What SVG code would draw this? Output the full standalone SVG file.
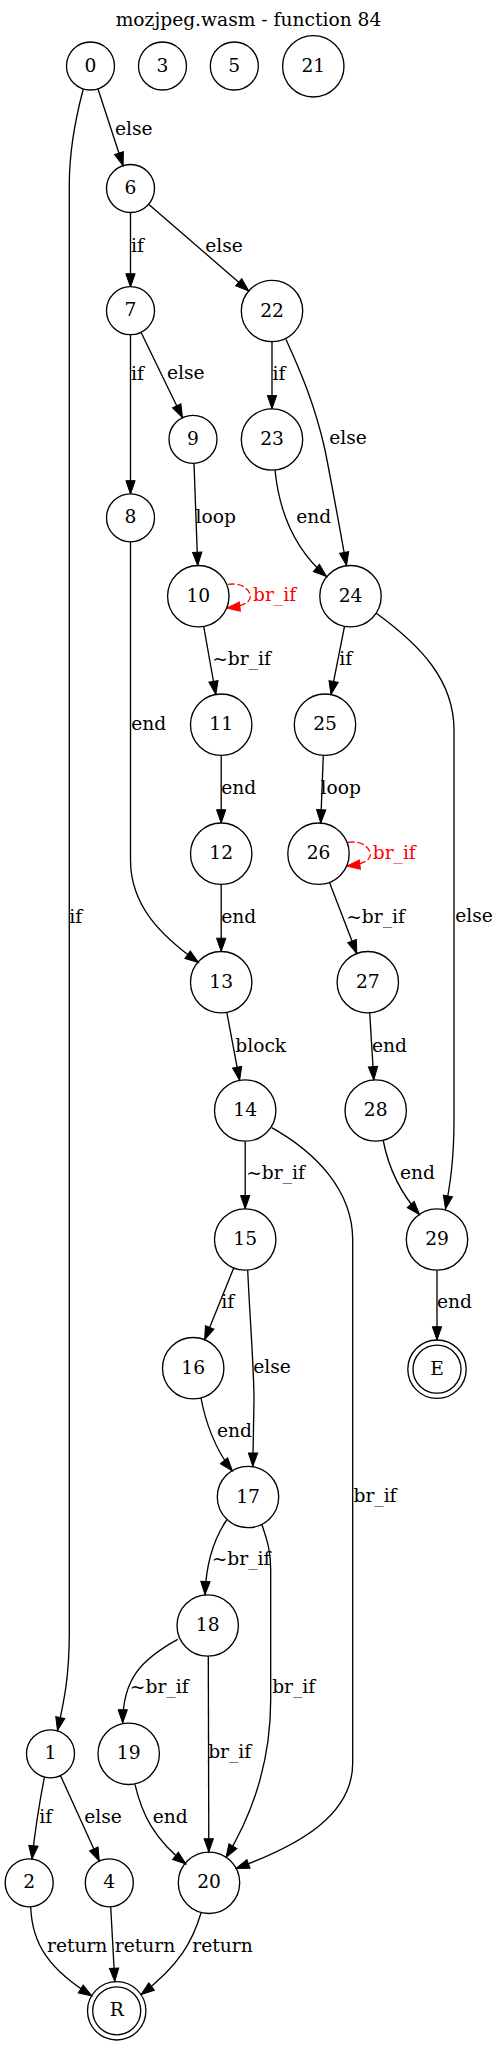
<svg xmlns="http://www.w3.org/2000/svg" width="499" height="2045" viewBox="0 0 499 2045">
<style>
text{font-family:"DejaVu Serif","Liberation Serif",serif;font-size:18.67px;text-anchor:middle;fill:#000}
.n{fill:none;stroke:#000;stroke-width:1.33}
.e{fill:none;stroke:#000;stroke-width:1.33;marker-end:url(#ah)}
.s{fill:none;stroke:#f00;stroke-width:1.33;stroke-dasharray:6.67,2.67;marker-end:url(#ahr)}
.r{fill:#f00;text-anchor:start}
</style>
<defs>
<marker id="ah" markerUnits="userSpaceOnUse" markerWidth="16" markerHeight="12" refX="13.3" refY="4.67" orient="auto" overflow="visible">
<path d="M0,0 L13.3,4.67 L0,9.33 Z" fill="#000" stroke="#000" stroke-width="1"/>
</marker>
<marker id="ahr" markerUnits="userSpaceOnUse" markerWidth="16" markerHeight="12" refX="13.3" refY="4.67" orient="auto" overflow="visible">
<path d="M0,0 L13.3,4.67 L0,9.33 Z" fill="#f00" stroke="#f00" stroke-width="1"/>
</marker>
</defs>
<rect x="0" y="0" width="499" height="2045" fill="#fff"/>
<text x="248.5" y="26">mozjpeg.wasm - function 84</text>
<g id="connectors">
<g id="e0_6"><path class="e" d="M97.9,88.8 L123.1,165.7"/><text x="133.7" y="135">else</text></g>
<g id="e0_1"><path class="e" d="M83.3,89 C75,120 69.3,150 69.3,185 L69.3,1633 C69.3,1680 63,1705 57.5,1730.5"/><text x="75.8" y="922.7">if</text></g>
<g id="e6_7"><path class="e" d="M130.5,212.5 L130.5,287"/><text x="137.5" y="251.7">if</text></g>
<g id="e6_22"><path class="e" d="M148.6,204.2 L248.8,290.9"/><text x="224" y="251.7">else</text></g>
<g id="e7_8"><path class="e" d="M130.5,334.7 L130.5,494"/><text x="137.5" y="380">if</text></g>
<g id="e7_9"><path class="e" d="M141,332.3 L182.5,417.7"/><text x="185.8" y="379.3">else</text></g>
<g id="e22_23"><path class="e" d="M272,341.7 L272,408.8"/><text x="279" y="380">if</text></g>
<g id="e22_24"><path class="e" d="M286,339.5 C300,370 315,405 325,450 C333,490 340,530 346.5,565.5"/><text x="348" y="444">else</text></g>
<g id="e23_24"><path class="e" d="M275,470 C279,510 293,548 326.5,576.5"/><text x="313.7" y="522.7">end</text></g>
<g id="e9_10"><path class="e" d="M194,463.3 L197.7,565.5"/><text x="215.8" y="522.7">loop</text></g>
<g id="e10_10"><path class="s" d="M228,584.3 C238,583 247,586 250,594 C252,601 246,606 226.7,608"/><text class="r" x="253" y="600.5">br_if</text></g>
<g id="e10_11"><path class="e" d="M203.7,626.4 L215.8,694.5"/><text x="241.5" y="665">~br_if</text></g>
<g id="e24_25"><path class="e" d="M344.5,626.3 L331,694.6"/><text x="345.8" y="665">if</text></g>
<g id="e24_29"><path class="e" d="M376,613 C420,645 454,680 454,730 L454,1120 C454,1160 450,1185 445.5,1209"/><text x="474" y="921.7">else</text></g>
<g id="e8_13"><path class="e" d="M130.5,541.8 L130.5,860 C130.5,905 160,935 198.5,962.5"/><text x="148.7" y="730">end</text></g>
<g id="e11_12"><path class="e" d="M221.2,755.4 L221.2,823"/><text x="238.7" y="794.3">end</text></g>
<g id="e12_13"><path class="e" d="M221.2,884.4 L221.2,951.5"/><text x="238.7" y="923.3">end</text></g>
<g id="e25_26"><path class="e" d="M323.3,755.4 L320.7,823"/><text x="340.7" y="794.3">loop</text></g>
<g id="e26_26"><path class="s" d="M348,842.3 C358,841 367,844 370,852 C372,859 366,864 346.7,866"/><text class="r" x="372.7" y="859">br_if</text></g>
<g id="e26_27"><path class="e" d="M329.5,882.4 L356.8,953.5"/><text x="375.5" y="923.3">~br_if</text></g>
<g id="e13_14"><path class="e" d="M226.8,1012.4 L239.6,1080.3"/><text x="260.7" y="1051.7">block</text></g>
<g id="e27_28"><path class="e" d="M369.7,1012.8 L373.8,1079.9"/><text x="389.5" y="1051.7">end</text></g>
<g id="e14_15"><path class="e" d="M245.2,1141.2 L245.2,1208.8"/><text x="275.5" y="1179.3">~br_if</text></g>
<g id="e14_20"><path class="e" d="M271.7,1127.7 C315,1152 352.7,1190 352.7,1240 L352.7,1763 C352.7,1815 300,1845 236,1868.5"/><text x="375" y="1501.7">br_if</text></g>
<g id="e28_29"><path class="e" d="M383.3,1141 C388,1165 398,1190 419.5,1214.5"/><text x="417.5" y="1179.3">end</text></g>
<g id="e29_E"><path class="e" d="M437,1270.2 L437,1340"/><text x="454.5" y="1308.3">end</text></g>
<g id="e15_16"><path class="e" d="M233.7,1268 L204.7,1339.7"/><text x="227.7" y="1308.3">if</text></g>
<g id="e15_17"><path class="e" d="M247.7,1270.2 C250,1320 254,1370 254,1400 L252.8,1466.3"/><text x="272" y="1372.7">else</text></g>
<g id="e16_17"><path class="e" d="M201,1398 C205,1420 215,1450 232.5,1471"/><text x="234.5" y="1437.3">end</text></g>
<g id="e17_18"><path class="e" d="M226.7,1520 C213,1540 206,1565 205,1594.8"/><text x="241" y="1565">~br_if</text></g>
<g id="e17_20"><path class="e" d="M261.7,1524 C267,1540 270.7,1550 270.7,1570 L270.7,1700 C270.7,1760 255,1810 226,1857.5"/><text x="293.7" y="1693.3">br_if</text></g>
<g id="e18_19"><path class="e" d="M177.7,1639.3 C140,1660 122.7,1680 122.7,1723"/><text x="159.2" y="1693.3">~br_if</text></g>
<g id="e18_20"><path class="e" d="M208.3,1656.2 L208.8,1852"/><text x="229.7" y="1758.3">br_if</text></g>
<g id="e1_2"><path class="e" d="M44.3,1777.5 C40,1800 35,1830 32,1859"/><text x="45.7" y="1823.3">if</text></g>
<g id="e1_4"><path class="e" d="M60.5,1775.6 L99.3,1861"/><text x="103" y="1823.3">else</text></g>
<g id="e19_20"><path class="e" d="M135,1784.3 C142,1815 155,1840 186,1864"/><text x="170.3" y="1823.3">end</text></g>
<g id="e2_R"><path class="e" d="M30.7,1906.7 C32,1945 50,1970 92,1996"/><text x="77.2" y="1951.7">return</text></g>
<g id="e4_R"><path class="e" d="M110.7,1906.8 L114.8,1981.5"/><text x="145" y="1951.7">return</text></g>
<g id="e20_R"><path class="e" d="M201,1913 C193,1940 180,1965 141,1994.5"/><text x="222.5" y="1951.7">return</text></g>
</g>
<g id="n0"><circle class="n" cx="90.5" cy="66" r="24"/><text x="90.5" y="71.5">0</text></g>
<g id="n3"><circle class="n" cx="162.5" cy="66" r="24"/><text x="162.5" y="71.5">3</text></g>
<g id="n5"><circle class="n" cx="234.3" cy="66" r="24"/><text x="234.3" y="71.5">5</text></g>
<g id="n21"><circle class="n" cx="313.3" cy="66.3" r="30.7"/><text x="313.3" y="71.8">21</text></g>
<g id="n6"><circle class="n" cx="130.5" cy="188.5" r="24"/><text x="130.5" y="194">6</text></g>
<g id="n7"><circle class="n" cx="130.5" cy="310.7" r="24"/><text x="130.5" y="316.2">7</text></g>
<g id="n22"><circle class="n" cx="272" cy="311" r="30.7"/><text x="272" y="316.5">22</text></g>
<g id="n9"><circle class="n" cx="193" cy="439.3" r="24"/><text x="193" y="444.8">9</text></g>
<g id="n23"><circle class="n" cx="272" cy="439.5" r="30.7"/><text x="272" y="445">23</text></g>
<g id="n8"><circle class="n" cx="130.5" cy="517.8" r="24"/><text x="130.5" y="523.3">8</text></g>
<g id="n10"><circle class="n" cx="198.3" cy="596.2" r="30.7"/><text x="198.3" y="601.7">10</text></g>
<g id="n24"><circle class="n" cx="350.5" cy="596.2" r="30.7"/><text x="350.5" y="601.7">24</text></g>
<g id="n11"><circle class="n" cx="221.2" cy="724.7" r="30.7"/><text x="221.2" y="730.2">11</text></g>
<g id="n25"><circle class="n" cx="325" cy="724.7" r="30.7"/><text x="325" y="730.2">25</text></g>
<g id="n12"><circle class="n" cx="221.2" cy="853.7" r="30.7"/><text x="221.2" y="859.2">12</text></g>
<g id="n26"><circle class="n" cx="318.5" cy="853.7" r="30.7"/><text x="318.5" y="859.2">26</text></g>
<g id="n13"><circle class="n" cx="221.2" cy="982.2" r="30.7"/><text x="221.2" y="987.7">13</text></g>
<g id="n27"><circle class="n" cx="367.8" cy="982.2" r="30.7"/><text x="367.8" y="987.7">27</text></g>
<g id="n14"><circle class="n" cx="245.2" cy="1110.5" r="30.7"/><text x="245.2" y="1116">14</text></g>
<g id="n28"><circle class="n" cx="375.7" cy="1110.5" r="30.7"/><text x="375.7" y="1116">28</text></g>
<g id="n15"><circle class="n" cx="245.2" cy="1239.5" r="30.7"/><text x="245.2" y="1245">15</text></g>
<g id="n29"><circle class="n" cx="437" cy="1239.5" r="30.7"/><text x="437" y="1245">29</text></g>
<g id="n16"><circle class="n" cx="193.2" cy="1368.2" r="30.7"/><text x="193.2" y="1373.7">16</text></g>
<g id="nE"><circle class="n" cx="437" cy="1369.2" r="24"/><circle class="n" cx="437" cy="1369.2" r="29.2"/><text x="437" y="1374.7">E</text></g>
<g id="n17"><circle class="n" cx="248" cy="1497" r="30.7"/><text x="248" y="1502.5">17</text></g>
<g id="n18"><circle class="n" cx="207.7" cy="1625.5" r="30.7"/><text x="207.7" y="1631">18</text></g>
<g id="n1"><circle class="n" cx="50.5" cy="1753.8" r="24"/><text x="50.5" y="1759.3">1</text></g>
<g id="n19"><circle class="n" cx="128.7" cy="1753.8" r="30.7"/><text x="128.7" y="1759.3">19</text></g>
<g id="n2"><circle class="n" cx="29.2" cy="1882.8" r="24"/><text x="29.2" y="1888.3">2</text></g>
<g id="n4"><circle class="n" cx="109.3" cy="1882.8" r="24"/><text x="109.3" y="1888.3">4</text></g>
<g id="n20"><circle class="n" cx="209" cy="1882.8" r="30.7"/><text x="209" y="1888.3">20</text></g>
<g id="nR"><circle class="n" cx="116.7" cy="2010.8" r="24"/><circle class="n" cx="116.7" cy="2010.8" r="29.2"/><text x="116.7" y="2016.3">R</text></g>
</svg>
